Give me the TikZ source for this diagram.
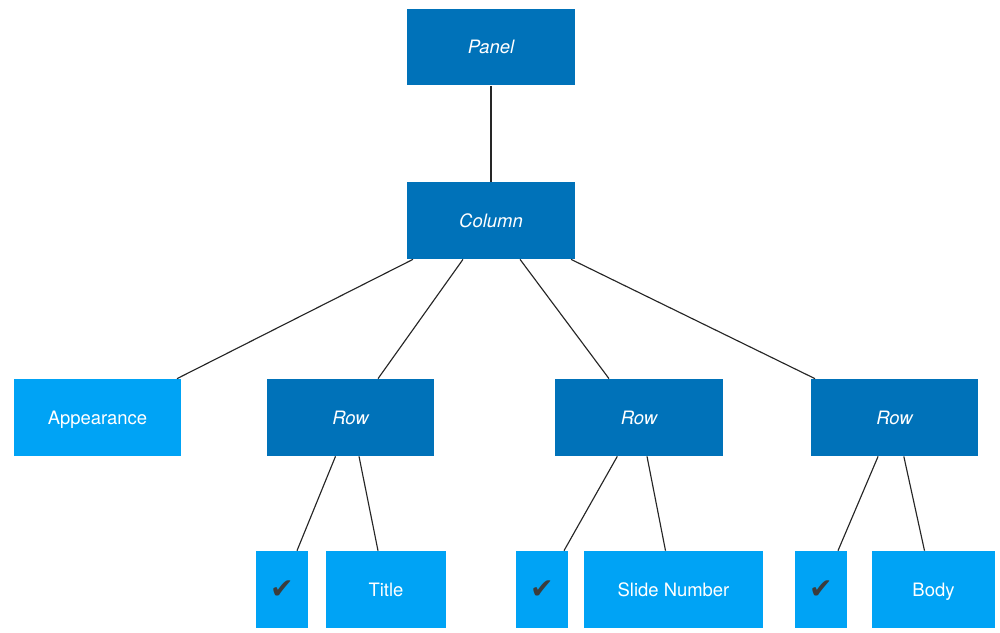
\documentclass[tikz,border=0pt]{standalone}
\usepackage{fontspec}
\setmainfont{TeX Gyre Heros}
\newfontfamily\symfont{DejaVu Sans}
\usepackage{xcolor}
\usetikzlibrary{calc}
\definecolor{darkblue}{HTML}{0072B9}
\definecolor{lightblue}{HTML}{00A3F5}
\definecolor{tickgray}{HTML}{3C3C3C}

\begin{document}
\begin{tikzpicture}[x=0.02cm, y=-0.02cm,
    box/.style={inner sep=0pt, text=white, minimum height=1.54cm,
        text height=8.8pt, text depth=1pt,
        font=\fontsize{10.5}{12}\selectfont},
    darkbox/.style={box, fill=darkblue, minimum width=3.36cm,
        font=\fontsize{10.5}{12}\selectfont\itshape},
    lightbox/.style={box, fill=lightblue},
    tickbox/.style={lightbox, minimum width=1.04cm, text=tickgray,
        text height=11pt, text depth=1pt,
        font=\symfont\fontsize{16}{16}\selectfont},
    link/.style={draw=black!85, line width=0.65pt}]
    \useasboundingbox (0,0) rectangle (1000,632);

    % top of the tree
    \node[darkbox] (panel) at (491, 47) {Panel};
    \node[darkbox] (column) at (491, 220.5) {Column};

    % middle row
    \node[lightbox, minimum width=3.34cm] (appearance) at (97.5, 417.5) {Appearance};
    \node[darkbox] (rowa) at (350.5, 417.5) {Row};
    \node[darkbox] (rowb) at (639, 417.5) {Row};
    \node[darkbox] (rowc) at (894.5, 417.5) {Row};

    % bottom row
    \node[tickbox] (ticka) at (282, 589.5) {✔};
    \node[lightbox, minimum width=2.42cm] (title) at (386, 589.5) {Title};
    \node[tickbox] (tickb) at (542, 589.5) {✔};
    \node[lightbox, minimum width=3.58cm] (slidenum) at (673.5, 589.5) {Slide Number};
    \node[tickbox] (tickc) at (821, 589.5) {✔};
    \node[lightbox, minimum width=2.46cm] (body) at (933.5, 589.5) {Body};

    \draw[link] (panel) -- (column); % panel-column
    \draw[link] ($(column.south)+(-78,0)$) -- ($(appearance.north)+(79.5,0)$); % column-appearance
    \draw[link] ($(column.south)+(-28,0)$) -- ($(rowa.north)+(27.5,0)$); % column-row
    \draw[link] ($(column.south)+(29,0)$) -- ($(rowb.north)+(-30,0)$); % column-row
    \draw[link] ($(column.south)+(80,0)$) -- ($(rowc.north)+(-79.5,0)$); % column-row
    \draw[link] ($(rowa.south)+(-15,0)$) -- ($(ticka.north)+(15,0)$); % row-tick
    \draw[link] ($(rowa.south)+(8.5,0)$) -- ($(title.north)+(-8,0)$); % row-title
    \draw[link] ($(rowb.south)+(-21.7,0)$) -- ($(tickb.north)+(22,0)$); % row-tick
    \draw[link] ($(rowb.south)+(8,0)$) -- ($(slidenum.north)+(-8,0)$); % row-slide number
    \draw[link] ($(rowc.south)+(-16.4,0)$) -- ($(tickc.north)+(17,0)$); % row-tick
    \draw[link] ($(rowc.south)+(9.3,0)$) -- ($(body.north)+(-9,0)$); % row-body
\end{tikzpicture}
\end{document}
